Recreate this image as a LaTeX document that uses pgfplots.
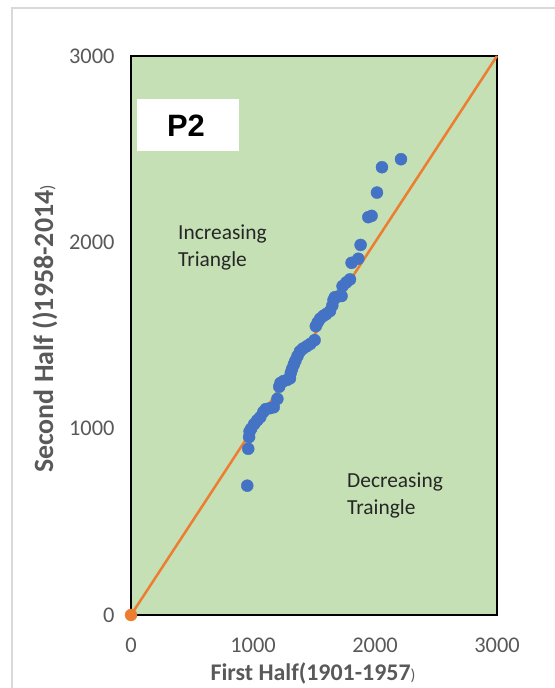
\documentclass[border=0pt]{standalone}
\usepackage{fontspec}
\setmainfont{Carlito}
\newfontfamily\arialfont{Liberation Sans}
\usepackage{pgfplots}
\pgfplotsset{compat=1.18}

\definecolor{plotgreen}{HTML}{C5E0B4}
\definecolor{dotblue}{HTML}{4472C4}
\definecolor{lineorange}{HTML}{ED7D31}
\definecolor{labelgray}{HTML}{595959}
\definecolor{framegray}{HTML}{D9D9D9}
\definecolor{textdark}{HTML}{262626}

% sorted annual pairs: first half (1901-1957) vs second half (1958-2014)
\pgfplotstableread{
x y
953 694
961 892
968 955
972 985
985 1000
1010 1025
1035 1045
1060 1062
1085 1090
1105 1105
1140 1110
1170 1115
1200 1160
1215 1225
1225 1245
1250 1255
1280 1262
1303 1270
1310 1300
1320 1320
1335 1345
1348 1365
1365 1390
1385 1415
1410 1430
1440 1442
1470 1455
1505 1475
1515 1550
1530 1570
1550 1590
1576 1605
1600 1615
1631 1631
1650 1660
1660 1690
1670 1705
1700 1710
1726 1712
1734 1765
1765 1785
1795 1801
1808 1890
1863 1912
1882 1986
1945 2135
1972 2142
2016 2267
2057 2403
2213 2446
}\pairs

\begin{document}
\begin{tikzpicture}[x=1bp,y=1bp]
\path[use as bounding box] (0,0) rectangle (555,688);
% outer chart frame
\draw[framegray, line width=1.5bp] (12,0) -- (12,680) -- (560,680);

\begin{axis}[
  at={(131bp,73bp)}, anchor=south west,
  scale only axis, width=366bp, height=559bp,
  xmin=0, xmax=3000, ymin=0, ymax=3000,
  xtick={0,1000,2000,3000}, ytick={0,1000,2000,3000},
  major tick length=0pt,
  scaled ticks=false,
  /pgf/number format/1000 sep={},
  /pgf/number format/assume math mode=true,
  tick label style={font=\fontsize{22.5}{25}\selectfont, text=labelgray},
  xticklabel style={yshift=-19bp},
  yticklabel style={xshift=-13bp},
  axis background/.style={fill=plotgreen},
  axis line style={black, line width=1.3bp},
  clip=false,
]
\addplot[lineorange, line width=2.5bp] coordinates {(0,0) (3000,3000)};
\addplot[only marks, mark=*, mark size=6bp, lineorange, mark options={draw=lineorange, fill=lineorange}] coordinates {(0,0)};
\addplot[only marks, mark=*, mark size=6bp, mark options={draw=dotblue, fill=dotblue}] table[x=x, y=y] {\pairs};
\end{axis}

% label box
\fill[white] (137,537) rectangle (239,589);
\node[font=\arialfont\bfseries\fontsize{31}{34}\selectfont] at (186,562) {P2};

% region annotations
\node[anchor=north west, align=left, inner sep=0pt, text=textdark,
      font=\fontsize{21.5}{27}\selectfont] at (178,463) {Increasing\\Triangle};
\node[anchor=north west, align=left, inner sep=0pt, text=textdark,
      font=\fontsize{21.5}{27}\selectfont] at (347,215) {Decreasing\\Traingle};

% axis titles
\node[text=labelgray, font=\bfseries\fontsize{24}{27}\selectfont] at (313,15)
  {First Half(1901-1957{\mdseries\fontsize{16}{18}\selectfont)}};
\node[text=labelgray, rotate=90, font=\bfseries\fontsize{28}{31}\selectfont] at (45,359)
  {Second Half ()1958-2014{\mdseries\fontsize{18}{20}\selectfont)}};
\end{tikzpicture}
\end{document}
